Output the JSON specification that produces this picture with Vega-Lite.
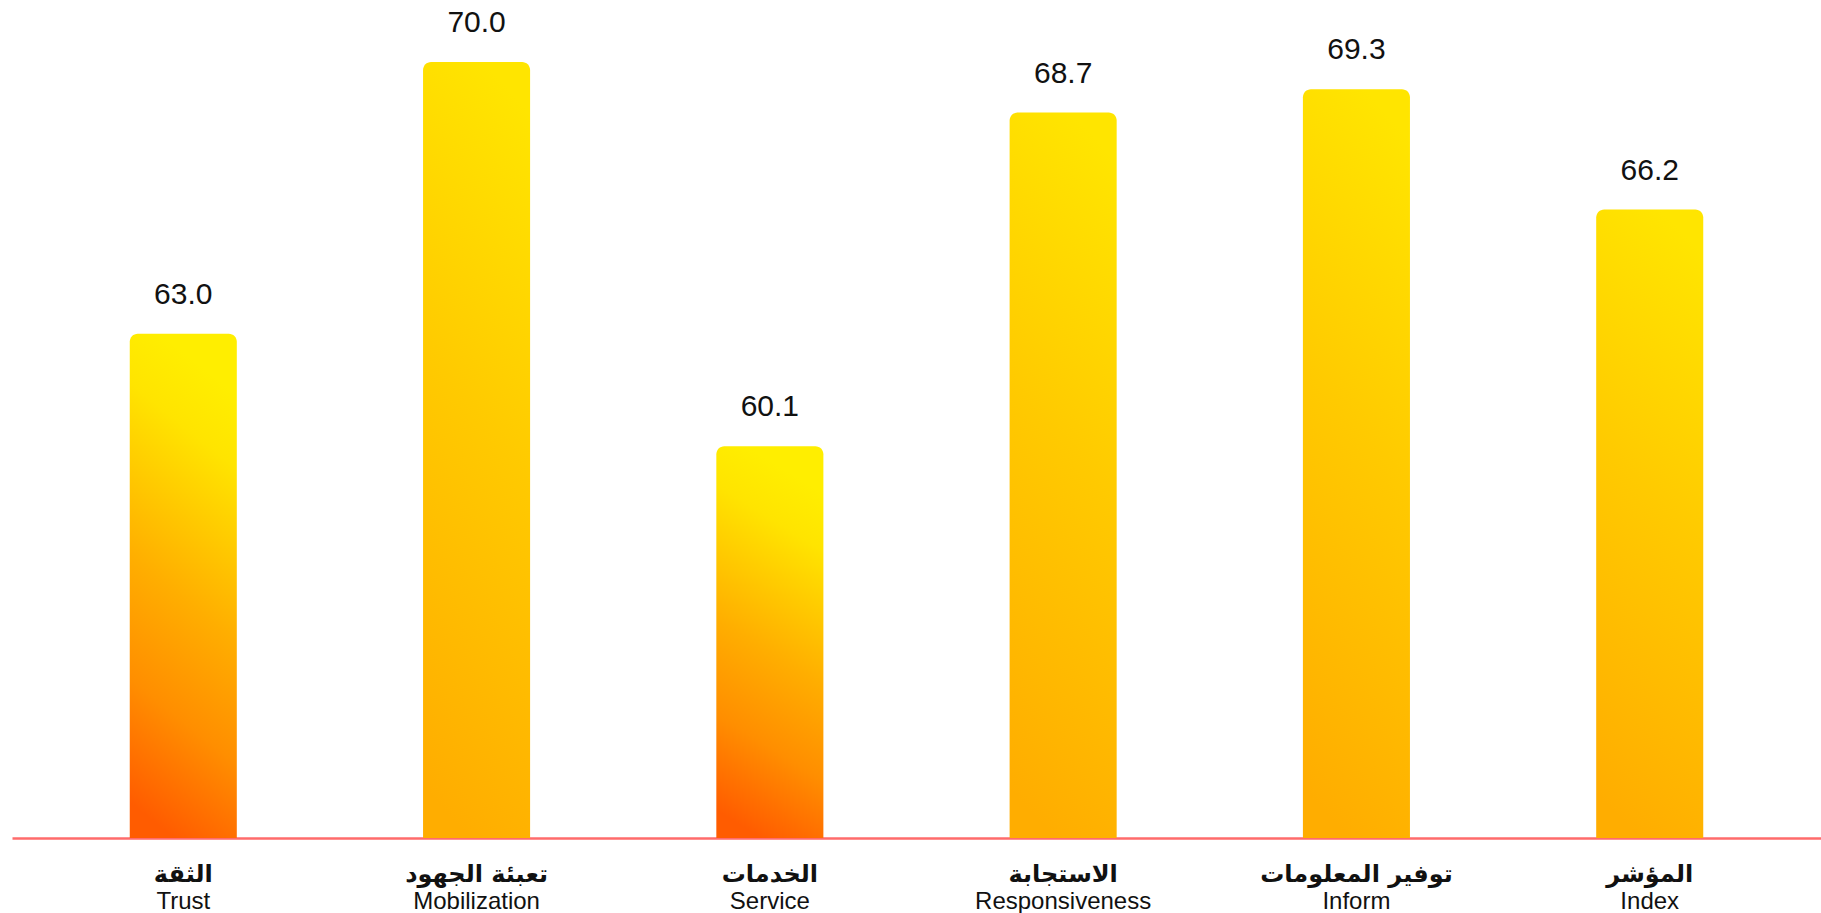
{
  "$schema": "https://vega.github.io/schema/vega-lite/v6.json",
  "width": 1809,
  "height": 838,
  "autosize": {"type": "none"},
  "padding": {"left": 12, "top": 0, "right": 0, "bottom": 75},
  "background": "#ffffff",
  "config": {"view": {"stroke": null}},
  "data": {
    "values": [
      {"label": "الثقة|Trust", "value": 63.0},
      {"label": "تعبئة الجهود|Mobilization", "value": 70.0},
      {"label": "الخدمات|Service", "value": 60.1},
      {"label": "الاستجابة|Responsiveness", "value": 68.7},
      {"label": "توفير المعلومات|Inform", "value": 69.3},
      {"label": "المؤشر|Index", "value": 66.2}
    ]
  },
  "layer": [
    {
      "mark": {"type": "bar", "cornerRadiusTopLeft": 8, "cornerRadiusTopRight": 8},
      "encoding": {
        "x": {
          "field": "label",
          "type": "nominal",
          "sort": null,
          "scale": {"paddingInner": 0.635, "paddingOuter": 0.4015},
          "axis": {
            "orient": "bottom",
            "title": null,
            "domain": true,
            "domainColor": "#ff6b6b",
            "domainWidth": 2.5,
            "ticks": false,
            "tickSize": 0,
            "labelExpr": "split(datum.value, '|')[0]",
            "labelFont": "DejaVu Sans",
            "labelFontWeight": "bold",
            "labelFontSize": 24,
            "labelColor": "#111111",
            "labelBaseline": "alphabetic",
            "labelPadding": 43,
            "labelAngle": 0,
            "labelLimit": 0,
            "labelOverlap": false
          }
        },
        "y": {
          "field": "value",
          "type": "quantitative",
          "scale": {"domain": [50, 71.6], "zero": false, "nice": false},
          "axis": null
        },
        "y2": {"datum": 50},
        "color": {
          "condition": {
            "test": "datum.value < 65",
            "value": {
              "gradient": "linear",
              "x1": 0.58, "y1": 0.05, "x2": 0.42, "y2": 1,
              "stops": [
                {"offset": 0, "color": "#ffee00"},
                {"offset": 0.15, "color": "#ffe400"},
                {"offset": 0.5, "color": "#ffae00"},
                {"offset": 0.75, "color": "#ff8e00"},
                {"offset": 1, "color": "#ff5c00"}
              ]
            }
          },
          "value": {
            "gradient": "linear",
            "x1": 0.58, "y1": 0, "x2": 0.42, "y2": 1,
            "stops": [
              {"offset": 0, "color": "#ffe500"},
              {"offset": 0.45, "color": "#ffca00"},
              {"offset": 1, "color": "#ffad00"}
            ]
          }
        }
      }
    },
    {
      "mark": {
        "type": "text",
        "dy": -30,
        "baseline": "alphabetic",
        "fontSize": 30,
        "font": "Liberation Sans",
        "color": "#111111"
      },
      "encoding": {
        "x": {
          "field": "label",
          "type": "nominal",
          "sort": null,
          "axis": {
            "orient": "bottom",
            "title": null,
            "domain": false,
            "ticks": false,
            "tickSize": 0,
            "labelExpr": "split(datum.value, '|')[1]",
            "labelFont": "Liberation Sans",
            "labelFontSize": 24,
            "labelColor": "#111111",
            "labelBaseline": "alphabetic",
            "labelPadding": 70,
            "labelAngle": 0,
            "labelLimit": 0,
            "labelOverlap": false
          }
        },
        "y": {"field": "value", "type": "quantitative"},
        "text": {"field": "value", "type": "quantitative", "format": ".1f"}
      }
    }
  ],
  "resolve": {"axis": {"x": "independent"}}
}
